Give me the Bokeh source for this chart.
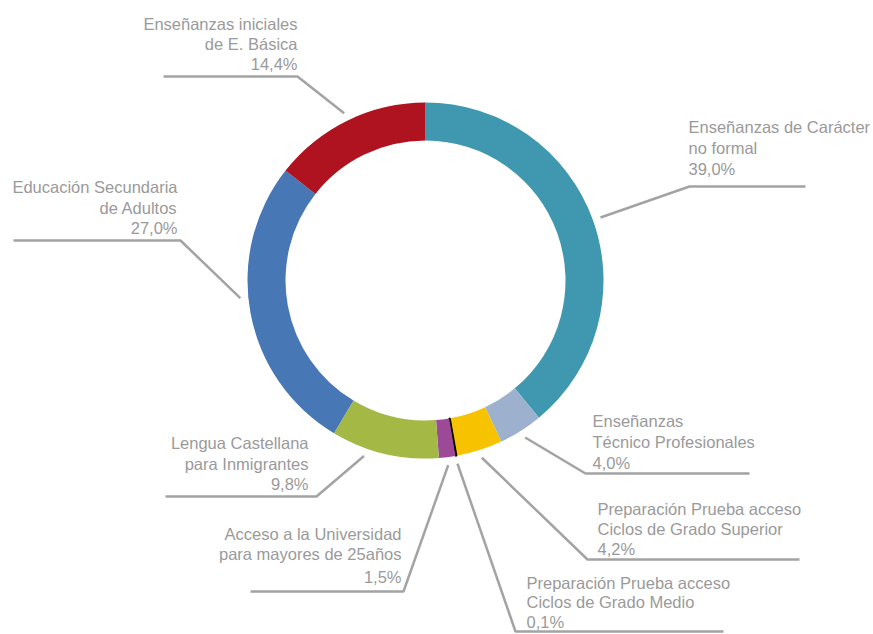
import math
from bokeh.plotting import figure
from bokeh.models import Range1d, ColumnDataSource
from bokeh.core.properties import value
from bokeh.embed import file_html
from bokeh.resources import INLINE

# ---- data ----
categories = [
    "Enseñanzas de Carácter\nno formal",
    "Enseñanzas\nTécnico Profesionales",
    "Preparación Prueba acceso\nCiclos de Grado Superior",
    "Preparación Prueba acceso\nCiclos de Grado Medio",
    "Acceso a la Universidad\npara mayores de 25años",
    "Lengua Castellana\npara Inmigrantes",
    "Educación Secundaria\nde Adultos",
    "Enseñanzas iniciales\nde E. Básica",
]
percentages = [39.0, 4.0, 4.2, 0.1, 1.5, 9.8, 27.0, 14.4]
colors = ["#3F98AF", "#9DB1CE", "#F7C300", "#000000", "#9C4A97", "#A4B846", "#4777B5", "#AE131F"]

# ---- layout (page pixel coordinates) ----
CX, CY = 425, 280
R_OUT, R_IN = 178, 140
R_LEAD = 186
# align, text x, line centre ys, elbow (x, y), horizontal end x, angle tweak (deg)
layout = [
    ("left", 688, [126, 147, 168], (689, 186), 805, 0),
    ("left", 592, [420, 441, 462], (585, 473), 749, 0),
    ("left", 597, [508, 528, 548], (587, 559), 799, 0),
    ("left", 526, [582, 601, 621], (515, 631), 723, 0),
    ("right", 401, [533, 553, 576], (403, 591), 250, 0),
    ("right", 308, [442, 463, 483], (316, 496), 165, -6),
    ("right", 177, [186, 207, 227], (180, 240), 13, -5),
    ("right", 297, [23, 43, 63], (297, 76), 163, 0),
]

W, H = 873, 634
p = figure(width=W, height=H, output_backend="svg", toolbar_location=None,
           x_range=Range1d(0, W), y_range=Range1d(-H, 0),
           min_border=0, outline_line_color=None, background_fill_color="white")
p.axis.visible = False
p.grid.visible = False

total = sum(percentages)
cum = 0.0
starts, ends, mids = [], [], []
for v in percentages:
    a0 = 90 - cum / total * 360
    a1 = 90 - (cum + v) / total * 360
    starts.append(math.radians(a0))
    ends.append(math.radians(a1))
    mids.append((a0 + a1) / 2)
    cum += v

src = ColumnDataSource(dict(x=[CX] * len(percentages), y=[-CY] * len(percentages),
                            s=starts, e=ends, c=colors,
                            lc=["#000000" if c == "#000000" else c for c in colors],
                            lw=[1.5 if c == "#000000" else 0 for c in colors]))
p.annular_wedge(x="x", y="y", inner_radius=R_IN, outer_radius=R_OUT,
                start_angle="s", end_angle="e", direction="clock",
                fill_color="c", line_color="lc", line_width="lw", source=src)

xs, ys = [], []
tx, ty, tt, ta = [], [], [], []
for i, (cat, v) in enumerate(zip(categories, percentages)):
    align, x0, lys, elbow, hend, tweak = layout[i]
    ang = math.radians(mids[i] + tweak)
    sx = CX + R_LEAD * math.cos(ang)
    sy = CY - R_LEAD * math.sin(ang)
    xs.append([sx, elbow[0], hend])
    ys.append([-sy, -elbow[1], -elbow[1]])
    lines = cat.split("\n") + [f"{v:.1f}%".replace(".", ",")]
    for ln, yy in zip(lines, lys):
        tx.append(x0); ty.append(-yy); tt.append(ln); ta.append(align)

p.multi_line(xs=xs, ys=ys, line_color="#A3A3A3", line_width=2.5)

for align in ("left", "right"):
    idx = [k for k in range(len(tt)) if ta[k] == align]
    p.text(x=[tx[k] for k in idx], y=[ty[k] for k in idx], text=[tt[k] for k in idx],
           text_align=align, text_baseline="middle",
           text_font=value("Liberation Sans"), text_font_size="16.5px",
           text_color="#9A9A9A")

open("out.html", "w").write(file_html(p, INLINE))
